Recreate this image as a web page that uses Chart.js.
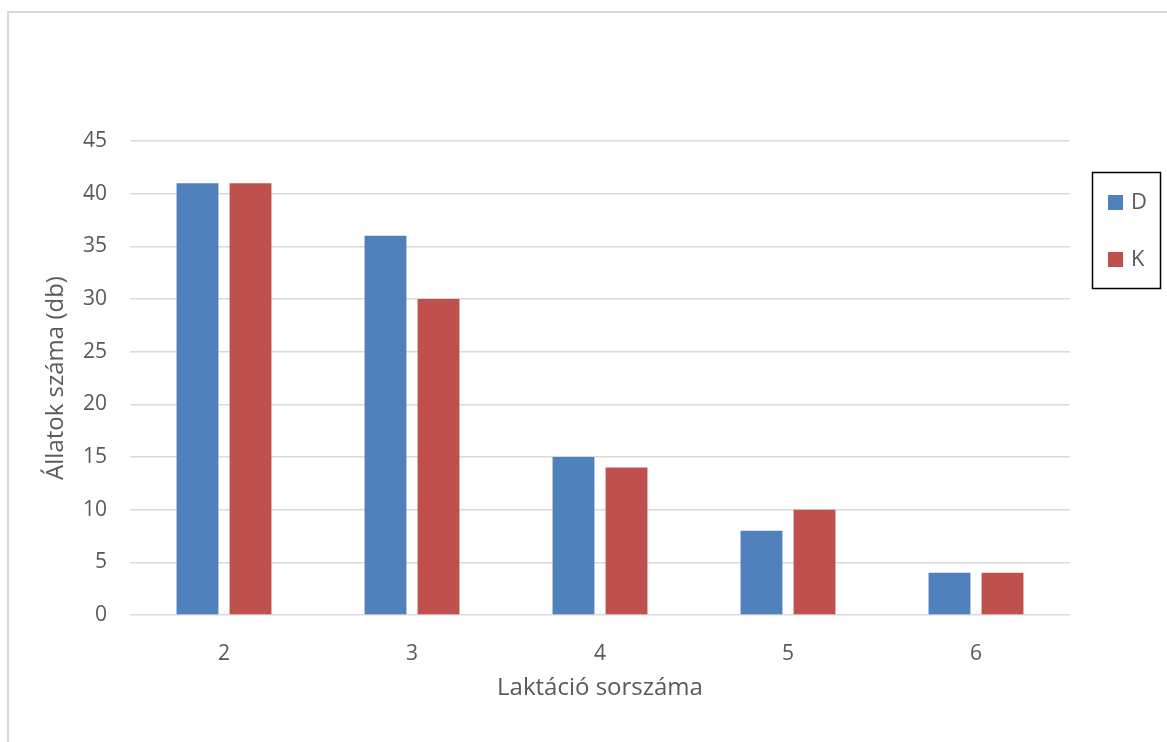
<!DOCTYPE html>
<html>
<head>
<meta charset="utf-8">
<script src="https://cdn.jsdelivr.net/npm/chart.js@4/dist/chart.umd.min.js"></script>
<style>
  html, body { margin: 0; padding: 0; background: #fff; }
  #wrap { width: 1167px; height: 742px; position: relative; }
</style>
</head>
<body>
<div id="wrap"><canvas id="myChart" width="1167" height="742"></canvas></div>
<script>
// data
const categories = ['2', '3', '4', '5', '6'];
const seriesNames = ['D', 'K'];
const valuesD = [41, 36, 15, 8, 4];
const valuesK = [41, 30, 14, 10, 4];
const yTicks = [0, 5, 10, 15, 20, 25, 30, 35, 40, 45];

const colors = ['#4f81bd', '#c0504d'];
const fontFamily = '"Open Sans", "Liberation Sans", sans-serif';
const textColor = '#595959';

// light frame round the whole chart
const frame = {
    id: 'frame',
    beforeDraw(chart) {
        const c = chart.ctx;
        c.save();
        c.strokeStyle = '#d9d9d9';
        c.lineWidth = 2;
        c.strokeRect(8, 12, 2000, 2000);
        c.restore();
    }
};

// boxed legend on the right, like the Excel one
const boxLegend = {
    id: 'boxLegend',
    afterDraw(chart) {
        const c = chart.ctx;
        c.save();
        c.strokeStyle = '#000';
        c.lineWidth = 1.5;
        c.strokeRect(1092.5, 172.5, 68, 116);
        c.font = '22px ' + fontFamily;
        c.textBaseline = 'middle';
        chart.data.datasets.forEach((ds, i) => {
            const cy = 203 + i * 57;
            c.fillStyle = ds.backgroundColor;
            c.fillRect(1108, cy - 8, 15, 15);
            c.fillStyle = textColor;
            c.fillText(ds.label, 1131, cy);
        });
        c.restore();
    }
};

const ctx = document.getElementById('myChart').getContext('2d');
new Chart(ctx, {
    type: 'bar',
    data: {
        labels: categories,
        datasets: [
            { label: seriesNames[0], data: valuesD, backgroundColor: colors[0] },
            { label: seriesNames[1], data: valuesK, backgroundColor: colors[1] }
        ]
    },
    options: {
        responsive: false,
        animation: false,
        layout: { padding: { left: 0, top: 141, right: 97, bottom: 0 } },
        datasets: {
            bar: { categoryPercentage: 0.564, barPercentage: 0.79 }
        },
        plugins: {
            legend: { display: false },
            tooltip: { enabled: false }
        },
        scales: {
            x: {
                grid: { display: false },
                border: { display: false },
                ticks: { color: textColor, font: { family: fontFamily, size: 21 }, padding: 18 },
                title: {
                    display: true,
                    text: 'Laktáció sorszáma',
                    color: textColor,
                    font: { family: fontFamily, size: 24 },
                    padding: { top: 0, bottom: 39 }
                },
                afterFit(scale) { scale.height = 127; }
            },
            y: {
                min: 0,
                max: 45,
                afterBuildTicks(scale) { scale.ticks = yTicks.map(v => ({ value: v })); },
                grid: { color: '#d9d9d9', lineWidth: 1.5, drawTicks: false },
                border: { display: false },
                ticks: { color: textColor, font: { family: fontFamily, size: 21 }, padding: 23 },
                title: {
                    display: true,
                    text: 'Állatok száma (db)',
                    color: textColor,
                    font: { family: fontFamily, size: 24 },
                    padding: { top: 42, bottom: 0 }
                },
                afterFit(scale) { scale.width = 130; }
            }
        }
    },
    plugins: [frame, boxLegend]
});
</script>
</body>
</html>
